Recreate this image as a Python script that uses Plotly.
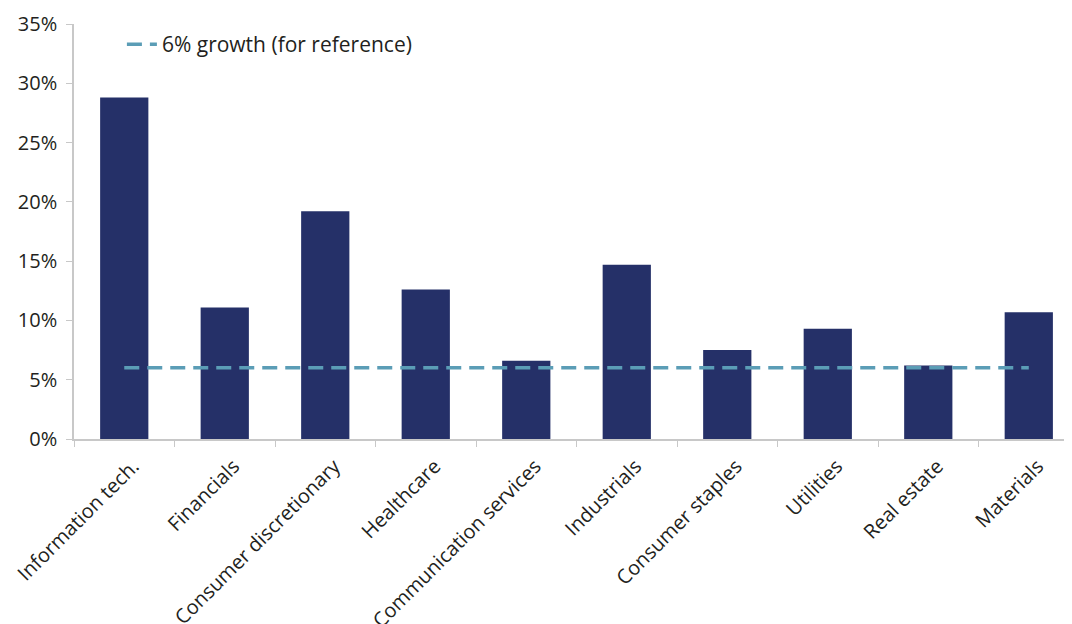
import plotly.graph_objects as go

categories = ["Information tech.", "Financials", "Consumer discretionary", "Healthcare",
              "Communication services", "Industrials", "Consumer staples", "Utilities",
              "Real estate", "Materials"]
growth = [28.8, 11.1, 19.2, 12.6, 6.6, 14.7, 7.5, 9.3, 6.2, 10.7]
reference = [6, 6, 6, 6, 6, 6, 6, 6, 6, 6]
y_ticks = [0, 5, 10, 15, 20, 25, 30, 35]
y_tick_labels = ["0%", "5%", "10%", "15%", "20%", "25%", "30%", "35%"]

FONT = "Open Sans"
TEXT = "#231f20"
AXIS = "#c8c8c8"

fig = go.Figure()
fig.add_trace(go.Bar(x=categories, y=growth, marker_color="#253068",
                     marker_line_width=0, showlegend=False))
fig.add_trace(go.Scatter(x=categories, y=reference, mode="lines",
                         name="6% growth (for reference)",
                         line=dict(color="#5b9db6", width=3.5, dash="15px,8px")))

fig.update_layout(
    width=1072, height=624,
    margin=dict(l=66, r=8, t=16, b=193),
    paper_bgcolor="white", plot_bgcolor="white",
    bargap=0.52,
    font=dict(family=FONT, size=20, color=TEXT),
    legend=dict(x=0.048, y=1.0, xanchor="left", yanchor="top",
                bgcolor="rgba(0,0,0,0)", font=dict(size=21, color=TEXT)),
    xaxis=dict(range=[-0.5, 9.43], showgrid=False, showline=True, linecolor=AXIS,
               linewidth=1.5, ticks="outside", tickson="boundaries", ticklen=6,
               tickcolor=AXIS, tickangle=-45, automargin=False,
               ticklabelstandoff=6, ticklabelshift=9,
               tickfont=dict(size=20, color=TEXT)),
    yaxis=dict(range=[0, 35], tickvals=y_ticks, ticktext=y_tick_labels, showgrid=False,
               zeroline=False, showline=True, linecolor=AXIS, linewidth=1.5,
               ticks="outside", ticklen=6, tickcolor=AXIS, automargin=False,
               ticklabelstandoff=5,
               tickfont=dict(size=20, color=TEXT)),
)

fig.write_html("out.html")
